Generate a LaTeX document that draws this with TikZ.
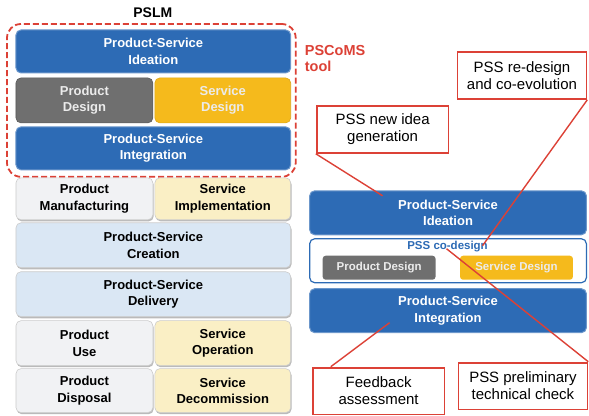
\documentclass[tikz,border=0pt]{standalone}
\usepackage{fontspec}
\setmainfont{Liberation Sans}
\usetikzlibrary{positioning,shadows}

\definecolor{psblue}{HTML}{2D6BB5}
\definecolor{pdgray}{HTML}{6F6F6F}
\definecolor{sdyellow}{HTML}{F5BA1C}
\definecolor{lightblue}{HTML}{DAE7F4}
\definecolor{lightyellow}{HTML}{FAEFC5}
\definecolor{lightgray}{HTML}{F1F2F4}
\definecolor{callred}{HTML}{DC4136}

\begin{document}
\begin{tikzpicture}[x=1pt, y=-1pt,
	phase/.style={rectangle, rounded corners=5pt, align=center, inner sep=2pt,
		font=\fontsize{13}{16.5}\selectfont\bfseries},
	bluephase/.style={phase, draw=psblue!70!white, line width=1pt, fill=psblue, text=white},
	prodphase/.style={phase, draw=pdgray!80!black, line width=0.6pt, fill=pdgray, text=white!92!black},
	servphase/.style={phase, draw=sdyellow!90!black, line width=0.6pt, fill=sdyellow, text=white!92!black},
	lifephase/.style={phase, draw=black!20, line width=0.6pt, text=black,
		drop shadow={shadow xshift=0.8pt, shadow yshift=-1.6pt, fill=black!45, opacity=0.6}},
	smallbox/.style={rectangle, rounded corners=3pt, inner sep=1pt, text=white!92!black,
		font=\fontsize{11.5}{13}\selectfont\bfseries, minimum width=113pt, minimum height=24pt},
	callout/.style={rectangle, draw=callred, line width=1.8pt, fill=white, align=center,
		font=\fontsize{15}{17}\selectfont, minimum height=47pt, inner sep=1pt},
	callline/.style={draw=callred, line width=1.4pt},
	]
	%Background frame of the tool
	\node[rectangle, draw=callred, dash pattern=on 6pt off 3pt, line width=1.8pt, rounded corners=14pt,
	minimum width=289pt, minimum height=153pt] (toolframe) at (151.5,100.5) {};
	%
	\node[font=\fontsize{14}{16}\selectfont\bfseries] (pslm) at (153,13) {PSLM};
	\node[anchor=north west, align=left, text=callred, inner sep=0pt,
	font=\fontsize{14.5}{16.5}\selectfont\bfseries] (pscoms) at (305,45) {PSCoMS\\tool};
	%
	%Left column
	\node[bluephase, minimum width=275pt, minimum height=43pt] (ideaL) at (153.5,51.5) {Product-Service\\Ideation};
	\node[prodphase, minimum width=137pt, minimum height=45pt] (pdesL) at (84.5,100.5) {Product\\Design};
	\node[servphase, minimum width=136pt, minimum height=45pt] (sdesL) at (223,100.5) {Service\\Design};
	\node[bluephase, minimum width=275pt, minimum height=43pt] (integL) at (153.5,148.5) {Product-Service\\Integration};
	%
	\node[lifephase, fill=lightgray, minimum width=137pt, minimum height=42pt] (manuf) at (84.5,199) {Product\\Manufacturing};
	\node[lifephase, fill=lightyellow, minimum width=136pt, minimum height=42pt] (implem) at (223,199) {Service\\Implementation};
	\node[lifephase, fill=lightblue, minimum width=275pt, minimum height=45pt] (creation) at (153.5,245.5) {Product-Service\\Creation};
	\node[lifephase, fill=lightblue, minimum width=275pt, minimum height=45pt] (delivery) at (153.5,294.5) {Product-Service\\Delivery};
	\node[lifephase, fill=lightgray, minimum width=137pt, minimum height=45pt] (use) at (84.5,343.5) {Product\\Use};
	\node[lifephase, fill=lightyellow, minimum width=136pt, minimum height=45pt] (operation) at (223,343.5) {Service\\Operation};
	\node[lifephase, fill=lightgray, minimum width=137pt, minimum height=44pt] (disposal) at (84.5,391) {Product\\Disposal};
	\node[lifephase, fill=lightyellow, minimum width=136pt, minimum height=44pt] (decomm) at (223,391) {Service\\Decommission};
	%
	%Right column
	\node[bluephase, minimum width=277pt, minimum height=44pt] (ideaR) at (448.5,213) {Product-Service\\Ideation};
	\node[rectangle, rounded corners=5pt, draw=psblue, line width=1.2pt, fill=white,
	minimum width=277pt, minimum height=44pt] (codesign) at (448.5,261) {};
	\node[text=psblue, font=\fontsize{11.5}{13}\selectfont\bfseries, inner sep=0pt] (codesignlabel) at (448,247) {PSS co-design};
	\node[smallbox, fill=pdgray] (pdesR) at (379.5,268) {Product Design};
	\node[smallbox, fill=sdyellow] (sdesR) at (517,268) {Service Design};
	\node[bluephase, minimum width=277pt, minimum height=44pt] (integR) at (448.5,311) {Product-Service\\Integration};
	%
	%Callouts
	\node[callout, minimum width=129pt] (redesign) at (522.5,75.5) {PSS re-design\\and co-evolution};
	\node[callout, minimum width=132pt] (newidea) at (383,129.5) {PSS new idea\\generation};
	\node[callout, minimum width=132pt] (feedback) at (379,391.5) {Feedback\\assessment};
	\node[callout, minimum width=129pt] (prelim) at (523.5,386.5) {PSS preliminary\\technical check};
	%
	\coordinate (newideaend) at (383,196);
	\coordinate (redesignend) at (483,246);
	\coordinate (prelimend) at (447,249);
	\coordinate (feedbackend) at (390,323);
	%
	\draw[callline] (newidea.south west) -- (newideaend);
	\draw[callline] (redesign.south east) -- (redesignend);
	\draw[callline] (prelim.north east) -- (prelimend);
	\draw[callline] ([xshift=19pt]feedback.north west) -- (feedbackend);
	%
	\useasboundingbox (0,0) rectangle (589,416);
\end{tikzpicture}
\end{document}
